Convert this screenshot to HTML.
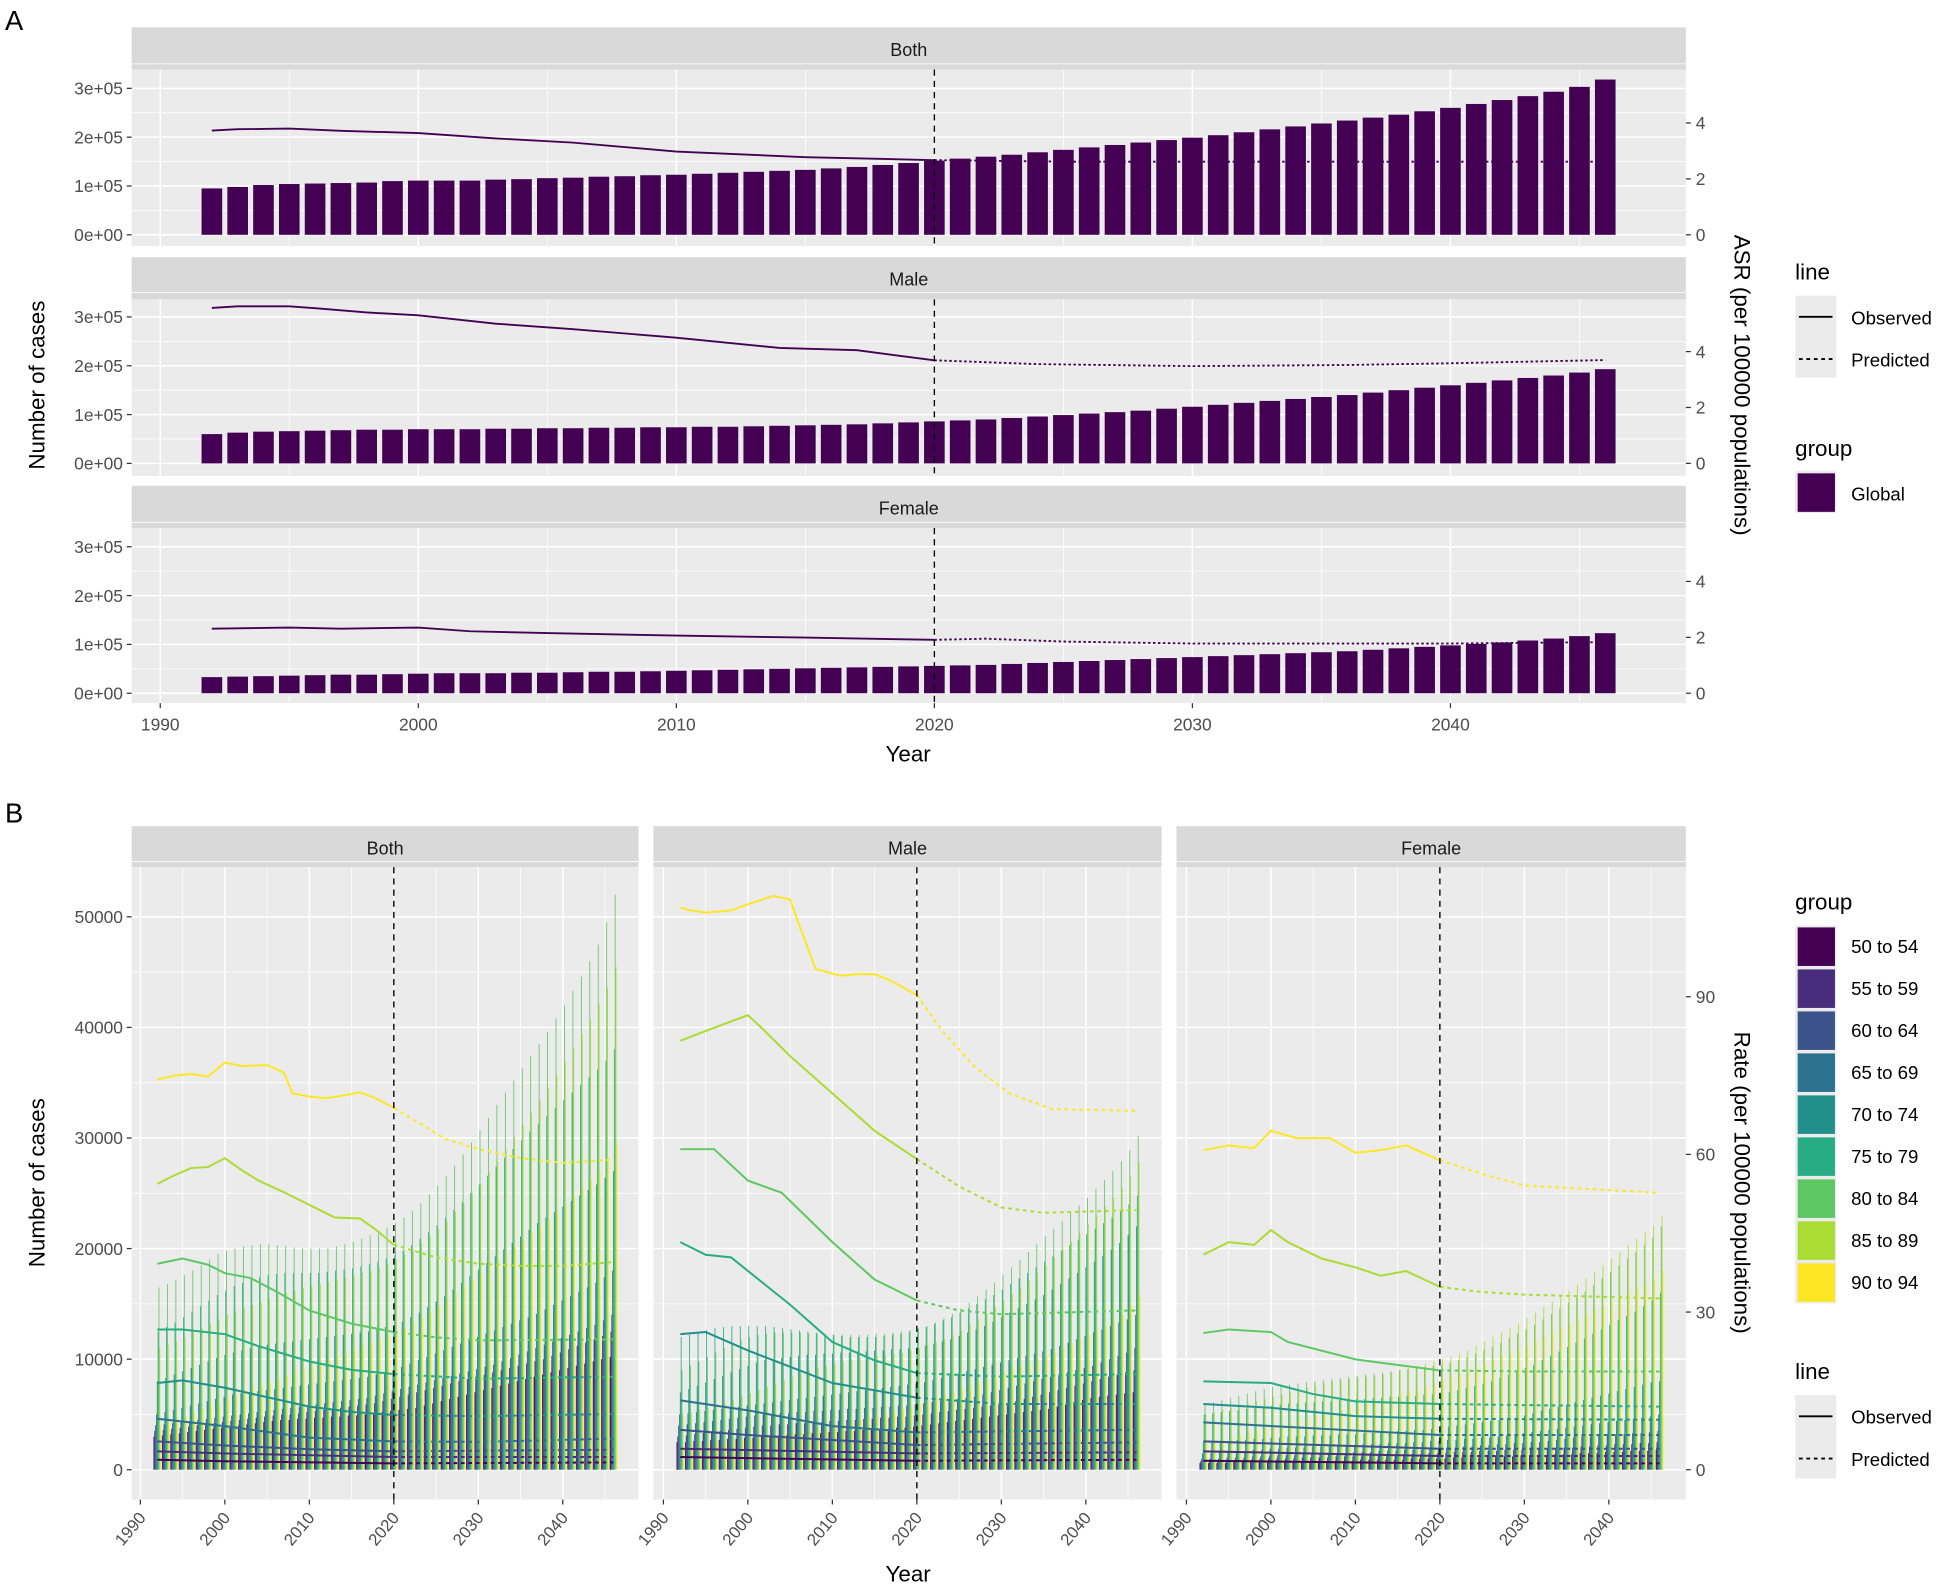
<!DOCTYPE html>
<html><head><meta charset="utf-8">
<style>
html,body{margin:0;padding:0;background:#fff;}
svg{display:block;font-family:"Liberation Sans",Arial,sans-serif;}
</style></head>
<body>
<svg id="chart" width="1948" height="1586" viewBox="0 0 1568 1276.6" preserveAspectRatio="none" xmlns="http://www.w3.org/2000/svg">
<g id="root"></g>
</svg>
<script>
// ---------- Panel A data ----------
const yearsA = [];
for (let y = 1992; y <= 2046; y++) yearsA.push(y);
const casesBoth = [0.95,0.98,1.02,1.04,1.05,1.06,1.07,1.10,1.11,1.11,1.11,1.13,1.14,1.16,1.17,1.19,1.20,1.22,1.23,1.25,1.27,1.29,1.31,1.33,1.36,1.39,1.43,1.47,1.52,1.56,1.60,1.64,1.69,1.74,1.79,1.84,1.89,1.94,1.99,2.04,2.10,2.16,2.22,2.28,2.34,2.40,2.46,2.53,2.60,2.68,2.76,2.84,2.93,3.03,3.18];
const casesMale = [0.60,0.63,0.65,0.66,0.67,0.68,0.69,0.69,0.70,0.70,0.70,0.71,0.71,0.72,0.72,0.73,0.73,0.74,0.74,0.75,0.75,0.76,0.77,0.78,0.79,0.80,0.82,0.84,0.86,0.88,0.90,0.93,0.96,0.99,1.02,1.05,1.08,1.12,1.16,1.20,1.24,1.28,1.32,1.36,1.40,1.45,1.50,1.55,1.60,1.65,1.70,1.75,1.80,1.86,1.93];
const casesFemale = [0.33,0.34,0.35,0.36,0.37,0.38,0.38,0.39,0.40,0.41,0.41,0.41,0.42,0.42,0.43,0.44,0.44,0.45,0.46,0.47,0.48,0.49,0.50,0.51,0.52,0.53,0.54,0.55,0.56,0.57,0.58,0.60,0.62,0.64,0.66,0.68,0.70,0.72,0.74,0.76,0.78,0.80,0.82,0.84,0.86,0.89,0.92,0.95,0.98,1.01,1.04,1.08,1.12,1.17,1.23];
const asrBothYears = [1992,1993,1995,1997,2000,2003,2006,2010,2015,2020,2025,2030,2040,2046];
const asrBoth = [3.73,3.78,3.8,3.72,3.64,3.45,3.3,2.98,2.78,2.67,2.62,2.62,2.62,2.62];
const asrMaleYears = [1992,1993,1995,1996,1998,2000,2003,2006,2010,2014,2017,2020,2024,2030,2036,2040,2046];
const asrMale = [5.56,5.62,5.62,5.55,5.4,5.3,5.0,4.8,4.5,4.13,4.05,3.69,3.55,3.48,3.52,3.58,3.7];
const asrFemaleYears = [1992,1995,1997,2000,2002,2005,2010,2015,2020,2022,2025,2030,2040,2045,2046];
const asrFemale = [2.31,2.35,2.31,2.35,2.22,2.15,2.06,1.99,1.91,1.95,1.85,1.78,1.78,1.82,1.82];
const ticksAx = [1990,2000,2010,2020,2030,2040];
const ticksAleft = [0,1,2,3];
const ticksAleftLabels = ["0e+00","1e+05","2e+05","3e+05"];
const ticksAright = [0,2,4];

// ---------- Panel B data ----------
const groupLabels = ["50 to 54","55 to 59","60 to 64","65 to 69","70 to 74","75 to 79","80 to 84","85 to 89","90 to 94"];
const groupColors = ["#440154","#472D7B","#3B528B","#2C728E","#21908C","#27AD81","#5DC863","#AADC32","#FDE725"];
const barsBoth = [
[3.0,3.1,3.2,3.3,3.4,3.5,3.6,3.7,3.8,3.9,4.0,4.1,4.2,4.3,4.4,4.5,4.5,4.6,4.6,4.7,4.7,4.8,4.8,4.9,4.9,5.0,5.1,5.2,5.3,5.4,5.5,5.6,5.8,6.0,6.2,6.4,6.6,6.8,7.0,7.2,7.4,7.6,7.8,8.0,8.2,8.4,8.6,8.8,9.0,9.2,9.4,9.6,9.8,10.0,10.2],
[3.5,3.6,3.7,3.8,3.9,4.0,4.1,4.2,4.3,4.4,4.5,4.6,4.7,4.8,4.9,5.0,5.0,5.1,5.2,5.3,5.4,5.5,5.6,5.7,5.8,5.9,6.0,6.2,6.4,6.6,6.8,7.0,7.2,7.4,7.6,7.8,8.0,8.2,8.4,8.6,8.8,9.0,9.2,9.4,9.6,9.8,10.0,10.3,10.6,10.9,11.2,11.5,11.8,12.1,12.5],
[4.0,4.1,4.2,4.3,4.4,4.5,4.6,4.7,4.8,4.9,5.0,5.1,5.2,5.3,5.4,5.5,5.6,5.7,5.8,5.9,6.0,6.1,6.2,6.3,6.4,6.5,6.7,6.9,7.1,7.3,7.5,7.7,7.9,8.1,8.3,8.5,8.7,8.9,9.1,9.3,9.5,9.8,10.1,10.4,10.7,11.0,11.3,11.6,11.9,12.2,12.5,12.8,13.1,13.5,14.0],
[5.0,5.2,5.4,5.6,5.8,6.0,6.2,6.4,6.6,6.8,6.9,7.0,7.1,7.2,7.3,7.4,7.5,7.6,7.7,7.8,7.9,8.0,8.1,8.2,8.3,8.4,8.6,8.8,9.0,9.3,9.6,9.9,10.2,10.5,10.8,11.1,11.4,11.7,12.0,12.3,12.6,12.9,13.2,13.5,13.8,14.1,14.5,14.9,15.3,15.7,16.1,16.5,16.9,17.4,18.0],
[8.0,8.3,8.6,8.9,9.2,9.5,9.8,10.1,10.4,10.6,10.8,11.0,11.2,11.3,11.4,11.5,11.6,11.7,11.8,11.9,12.0,12.1,12.2,12.3,12.4,12.5,12.7,12.9,13.1,13.4,13.8,14.2,14.7,15.2,15.7,16.3,16.9,17.5,18.1,18.7,19.3,19.9,20.5,21.1,21.7,22.3,22.8,23.3,23.8,24.3,24.8,25.3,25.8,26.4,27.0],
[12.5,12.9,13.3,13.8,14.3,14.8,15.3,15.8,16.2,16.6,16.9,17.2,17.4,17.6,17.7,17.8,17.8,17.8,17.8,17.8,17.9,18.0,18.1,18.2,18.4,18.6,18.8,19.1,19.4,19.8,20.3,20.9,21.5,22.1,22.8,23.5,24.2,25.0,25.8,26.6,27.4,28.2,29.0,29.8,30.6,31.3,32.0,32.7,33.4,34.1,34.8,35.5,36.2,37.0,38.0],
[16.5,16.8,17.2,17.6,18.0,18.5,19.0,19.5,19.8,20.0,20.2,20.3,20.4,20.4,20.3,20.2,20.1,20.0,20.0,20.0,20.1,20.2,20.4,20.6,20.9,21.2,21.5,21.9,22.3,22.8,23.4,24.1,24.9,25.7,26.6,27.5,28.5,29.6,30.7,31.8,33.0,34.1,35.2,36.3,37.4,38.5,39.6,40.8,42.0,43.3,44.6,46.0,47.5,49.5,52.0],
[11.0,11.3,11.6,12.0,12.4,12.8,13.2,13.6,14.0,14.3,14.6,14.9,15.2,15.5,15.8,16.0,16.2,16.4,16.6,16.8,17.0,17.2,17.4,17.6,17.8,18.0,18.3,18.6,19.0,19.4,19.9,20.5,21.1,21.8,22.5,23.3,24.1,25.0,25.9,26.9,27.9,29.0,30.1,31.2,32.3,33.4,34.5,35.7,36.9,38.1,39.4,40.7,42.1,43.6,45.5],
[4.0,4.3,4.6,4.9,5.2,5.5,5.8,6.1,6.4,6.7,7.0,7.3,7.6,7.9,8.2,8.5,8.8,9.1,9.4,9.7,10.0,10.3,10.6,10.9,11.2,11.5,11.8,12.1,12.4,12.8,13.2,13.7,14.2,14.8,15.4,16.0,16.6,17.2,17.8,18.4,19.0,19.6,20.2,20.8,21.4,22.0,22.6,23.3,24.0,24.7,25.4,26.2,27.0,28.0,29.5]];
const barsMale = [
[2.5,2.5,2.6,2.6,2.7,2.7,2.8,2.8,2.9,2.9,3.0,3.0,3.1,3.1,3.2,3.2,3.3,3.3,3.4,3.4,3.5,3.5,3.6,3.6,3.7,3.7,3.8,3.8,3.9,4.0,4.1,4.2,4.3,4.4,4.5,4.6,4.7,4.8,4.9,5.0,5.1,5.2,5.3,5.4,5.5,5.7,5.9,6.1,6.3,6.5,6.6,6.7,6.8,6.9,7.0],
[3.0,3.1,3.2,3.3,3.4,3.5,3.6,3.7,3.8,3.9,4.0,4.0,4.1,4.1,4.2,4.2,4.3,4.3,4.4,4.4,4.5,4.5,4.6,4.6,4.7,4.7,4.8,4.8,4.9,5.0,5.1,5.2,5.3,5.4,5.5,5.6,5.7,5.8,5.9,6.0,6.2,6.4,6.6,6.8,7.0,7.2,7.4,7.6,7.8,8.0,8.2,8.4,8.6,8.8,9.0],
[4.0,4.1,4.2,4.3,4.4,4.5,4.6,4.7,4.8,4.9,5.0,5.0,5.1,5.1,5.2,5.2,5.3,5.3,5.4,5.4,5.5,5.5,5.6,5.6,5.7,5.7,5.8,5.8,5.9,6.0,6.1,6.2,6.3,6.4,6.5,6.6,6.8,7.0,7.2,7.4,7.6,7.8,8.0,8.2,8.4,8.6,8.8,9.0,9.2,9.4,9.7,10.0,10.3,10.6,11.0],
[5.0,5.1,5.2,5.3,5.4,5.5,5.6,5.7,5.8,5.9,6.0,6.1,6.2,6.3,6.4,6.5,6.6,6.7,6.8,6.9,7.0,7.1,7.2,7.3,7.4,7.5,7.6,7.7,7.8,7.9,8.1,8.3,8.5,8.7,8.9,9.1,9.3,9.5,9.7,9.9,10.1,10.3,10.5,10.7,10.9,11.2,11.5,11.8,12.1,12.4,12.7,13.0,13.3,13.6,14.0],
[7.0,7.3,7.6,7.9,8.2,8.5,8.8,9.1,9.4,9.7,9.9,10.0,10.1,10.2,10.3,10.4,10.4,10.5,10.5,10.6,10.6,10.7,10.7,10.8,10.8,10.9,10.9,11.0,11.1,11.2,11.4,11.6,11.8,12.1,12.4,12.7,13.0,13.4,13.8,14.2,14.6,15.0,15.4,15.8,16.3,16.8,17.3,17.8,18.3,18.8,19.3,19.9,20.5,21.2,22.0],
[12.0,12.2,12.4,12.6,12.8,12.9,13.0,13.0,13.0,13.0,13.0,12.9,12.8,12.7,12.6,12.5,12.4,12.3,12.2,12.1,12.0,12.0,12.0,12.0,12.1,12.2,12.3,12.5,12.7,12.9,13.2,13.5,13.8,14.2,14.6,15.0,15.4,15.8,16.3,16.8,17.3,17.8,18.3,18.8,19.3,19.8,20.3,20.8,21.3,21.8,22.3,22.8,23.4,24.0,24.8],
[9.0,9.4,9.8,10.2,10.6,11.0,11.4,11.7,12.0,12.2,12.3,12.4,12.4,12.4,12.4,12.3,12.3,12.2,12.2,12.2,12.2,12.2,12.2,12.3,12.3,12.4,12.5,12.6,12.8,13.0,13.3,13.7,14.1,14.6,15.1,15.7,16.3,16.9,17.6,18.3,19.0,19.7,20.4,21.1,21.8,22.5,23.2,23.9,24.6,25.4,26.2,27.0,27.9,28.9,30.2],
[5.0,5.2,5.4,5.6,5.8,6.0,6.3,6.6,6.9,7.2,7.5,7.8,8.1,8.4,8.7,9.0,9.2,9.4,9.6,9.8,10.0,10.1,10.2,10.3,10.4,10.5,10.6,10.8,11.0,11.2,11.5,11.8,12.2,12.6,13.1,13.6,14.1,14.7,15.3,15.9,16.5,17.1,17.8,18.5,19.2,19.9,20.6,21.4,22.2,23.0,23.8,24.6,25.5,26.5,27.8],
[2.0,2.1,2.2,2.3,2.4,2.5,2.6,2.7,2.8,2.9,3.0,3.1,3.2,3.3,3.4,3.5,3.6,3.7,3.9,4.1,4.3,4.5,4.7,4.9,5.1,5.3,5.5,5.7,5.9,6.1,6.4,6.7,7.0,7.3,7.6,7.9,8.2,8.5,8.8,9.1,9.4,9.7,10.0,10.3,10.6,11.0,11.4,11.8,12.2,12.6,13.0,13.5,14.0,14.8,15.8]];
const barsFemale = [
[0.6,0.6,0.6,0.6,0.7,0.7,0.7,0.7,0.7,0.7,0.7,0.7,0.7,0.8,0.8,0.8,0.8,0.8,0.8,0.9,0.9,0.9,0.9,0.9,0.9,1.0,1.0,1.0,1.0,1.0,1.1,1.1,1.1,1.1,1.2,1.2,1.2,1.2,1.3,1.3,1.3,1.3,1.4,1.4,1.4,1.5,1.5,1.5,1.6,1.6,1.6,1.7,1.7,1.7,1.8],
[0.8,0.8,0.8,0.9,0.9,0.9,0.9,1.0,1.0,1.0,1.0,1.0,1.1,1.1,1.1,1.1,1.2,1.2,1.2,1.2,1.3,1.3,1.3,1.3,1.4,1.4,1.4,1.5,1.5,1.5,1.6,1.6,1.6,1.7,1.7,1.7,1.8,1.8,1.8,1.9,1.9,1.9,2.0,2.0,2.0,2.1,2.1,2.2,2.2,2.3,2.3,2.3,2.4,2.4,2.5],
[1.0,1.0,1.0,1.1,1.1,1.1,1.2,1.2,1.2,1.3,1.3,1.3,1.4,1.4,1.4,1.5,1.5,1.5,1.6,1.6,1.6,1.7,1.7,1.7,1.8,1.8,1.8,1.9,1.9,2.0,2.0,2.1,2.1,2.2,2.2,2.3,2.3,2.4,2.4,2.5,2.5,2.6,2.7,2.8,2.9,3.0,3.0,3.1,3.1,3.2,3.2,3.3,3.3,3.4,3.5],
[1.5,1.5,1.6,1.6,1.7,1.7,1.8,1.8,1.9,1.9,2.0,2.0,2.0,2.1,2.1,2.1,2.2,2.2,2.2,2.3,2.3,2.3,2.4,2.4,2.4,2.5,2.5,2.6,2.6,2.7,2.7,2.8,2.8,2.9,2.9,3.0,3.1,3.2,3.3,3.4,3.5,3.6,3.7,3.8,3.9,4.0,4.1,4.2,4.3,4.4,4.5,4.6,4.7,4.8,5.0],
[2.5,2.5,2.6,2.6,2.7,2.7,2.8,2.8,2.9,2.9,3.0,3.0,3.0,3.1,3.1,3.1,3.2,3.2,3.2,3.3,3.3,3.4,3.4,3.5,3.5,3.6,3.6,3.7,3.8,3.9,4.0,4.1,4.2,4.3,4.4,4.5,4.6,4.7,4.9,5.1,5.3,5.5,5.7,5.9,6.1,6.3,6.5,6.7,6.9,7.1,7.3,7.5,7.7,7.9,8.0],
[5.0,5.1,5.2,5.3,5.4,5.5,5.6,5.7,5.8,5.9,6.0,6.0,6.1,6.1,6.2,6.2,6.3,6.3,6.4,6.4,6.5,6.5,6.6,6.6,6.7,6.7,6.8,6.8,6.9,7.0,7.2,7.4,7.6,7.8,8.0,8.3,8.6,8.9,9.2,9.5,9.9,10.3,10.7,11.1,11.5,11.9,12.3,12.7,13.1,13.5,13.9,14.3,14.8,15.3,16.0],
[6.0,6.1,6.3,6.5,6.7,6.9,7.1,7.3,7.5,7.6,7.7,7.8,7.9,8.0,8.1,8.2,8.3,8.4,8.5,8.6,8.7,8.8,8.9,9.0,9.1,9.2,9.3,9.4,9.5,9.7,9.9,10.2,10.5,10.8,11.1,11.5,11.9,12.3,12.7,13.1,13.6,14.1,14.6,15.1,15.6,16.1,16.7,17.3,17.9,18.5,19.1,19.7,20.3,21.0,22.0],
[5.0,5.2,5.4,5.6,5.8,6.0,6.2,6.4,6.6,6.8,7.0,7.2,7.4,7.6,7.8,8.0,8.1,8.2,8.3,8.4,8.5,8.6,8.8,9.0,9.2,9.4,9.6,9.8,10.0,10.2,10.5,10.8,11.2,11.6,12.0,12.4,12.8,13.2,13.7,14.2,14.7,15.2,15.7,16.2,16.7,17.3,17.9,18.5,19.1,19.7,20.3,20.9,21.5,22.1,23.0],
[2.5,2.6,2.7,2.9,3.1,3.3,3.5,3.7,3.9,4.0,4.2,4.4,4.6,4.8,5.0,5.2,5.4,5.6,5.8,6.0,6.2,6.4,6.6,6.8,7.0,7.2,7.5,7.8,8.1,8.4,8.7,9.0,9.3,9.6,9.9,10.2,10.5,10.8,11.2,11.6,12.0,12.4,12.8,13.2,13.6,14.0,14.4,14.8,15.2,15.6,16.0,16.4,16.8,17.3,18.0]];
const rateBothYears = [
[1992,2000,2020,2046],[1992,2000,2020,2046],[1992,2000,2010,2020,2046],[1992,2000,2010,2020,2030,2046],
[1992,1995,2000,2005,2010,2015,2020,2030,2046],[1992,1995,2000,2004,2010,2015,2020,2030,2046],
[1992,1995,1998,2000,2003,2006,2010,2015,2020,2025,2030,2046],
[1992,1994,1996,1998,2000,2002,2004,2007,2010,2013,2016,2018,2020,2025,2030,2035,2040,2046],
[1992,1994,1996,1998,2000,2002,2005,2007,2008,2010,2012,2014,2016,2018,2020,2023,2026,2030,2035,2040,2046]];
const rateBoth = [
[1.9,1.6,1.2,1.4],[3.5,3.1,2.4,2.4],[5.4,4.6,3.9,3.5,3.8],[9.7,8.3,6.1,5.4,5.3,5.9],
[16.5,17,15.6,13.8,12,11,10.4,10.2,10.6],[26.7,26.7,25.8,23.5,20.6,19,18.2,17.3,17.7],
[39.2,40.2,39,37.4,36.5,34,30.3,27.8,26.2,25.2,24.6,24.8],
[54.4,56,57.4,57.6,59.3,57,55,52.8,50.4,48,47.8,45.5,42.8,40.4,39.2,38.8,38.8,39.5],
[74.2,75,75.3,74.8,77.5,76.8,77,75.5,71.6,71,70.7,71.2,71.8,70.6,68.8,66,63,61,59.3,58.4,59]];
const rateMaleYears = [
[1992,2020,2046],[1992,2020,2046],[1992,2000,2020,2046],[1992,2000,2010,2020,2046],
[1992,1995,2000,2010,2020,2030,2046],[1992,1995,1998,2005,2010,2015,2020,2030,2046],
[1992,1996,2000,2004,2010,2015,2020,2025,2030,2046],
[1992,1995,2000,2002,2005,2010,2015,2020,2025,2030,2035,2046],
[1992,1993,1995,1998,2000,2003,2005,2006,2008,2011,2013,2015,2017,2020,2023,2027,2031,2036,2046]];
const rateMale = [
[2.4,1.7,1.9],[4,3.1,3.3],[7.6,6.6,4.7,5.2],[13.2,11.3,8.3,7.1,7.6],
[25.8,26.2,22.7,16.5,13.7,12.5,12.5],[43.3,40.9,40.4,31.4,24.3,20.8,18.4,17.7,18.2],
[61,61,55,52.7,43.3,36.2,32.2,30.3,29.6,30.3],
[81.6,83.5,86.5,83.5,78.7,71.6,64.5,59.1,53.9,49.9,48.9,49.4],
[107,106.5,106,106.4,107.6,109.2,108.5,104,95.3,94,94.3,94.3,93,90.3,83.5,76.4,71.6,68.6,68.3]];
const rateFemaleYears = [
[1992,2020,2046],[1992,2020,2046],[1992,2020,2046],[1992,2020,2046],
[1992,2000,2010,2020,2046],[1992,2000,2005,2010,2020,2030,2046],
[1992,1995,2000,2002,2010,2020,2030,2046],
[1992,1995,1998,2000,2002,2006,2010,2013,2016,2020,2025,2030,2046],
[1992,1995,1998,2000,2003,2007,2010,2013,2016,2020,2025,2030,2040,2046]];
const rateFemale = [
[1.7,1.2,1.2],[3.5,2.6,2.6],[5.4,4,4],[9,6.6,6.6],
[12.5,11.8,10.2,9.7,9.5],[16.8,16.5,14.4,13,12.5,12.3,12],
[26,26.7,26.2,24.3,21,18.9,18.7,18.7],
[40.9,43.3,42.8,45.6,43.3,40.2,38.5,36.9,37.8,34.8,33.8,33.3,32.6],
[60.8,61.7,61.2,64.5,63.1,63.1,60.3,60.8,61.7,58.9,56.3,54.1,53.2,52.7]];
const ticksBx = [1990,2000,2010,2020,2030,2040];
const ticksBleft = [0,10000,20000,30000,40000,50000];
const ticksBright = [0,30,60,90];

// ---------- helpers ----------
const NS = "http://www.w3.org/2000/svg";
const root = document.getElementById("root");
function mk(tag, attrs, parent, text) {
  const e = document.createElementNS(NS, tag);
  for (const k in attrs) e.setAttribute(k, attrs[k]);
  if (text !== undefined) e.textContent = text;
  (parent || root).appendChild(e);
  return e;
}
function txt(x, y, s, size, anchor, fill, parent, rot) {
  const t = mk("text", {x: x, y: y, "font-size": size, "text-anchor": anchor || "start", fill: fill || "#4D4D4D"}, parent, s);
  if (rot !== undefined) t.setAttribute("transform", "rotate(" + rot + " " + x + " " + y + ")");
  return t;
}

// ---------- Panel A ----------
const gA = mk("g", {});


const tA = txt(4, 24, "A", 22, "start", "#000", gA);


const AX0 = 106, AX1 = 1357;
const xA = yr => 129 + (yr - 1990) * 20.77;
const facetsA = [
  {name: "Both", stripTop: 22, top: 56, bottom: 198, zero: 189, cases: casesBoth, asrY: asrBothYears, asr: asrBoth},
  {name: "Male", stripTop: 207, top: 241, bottom: 383, zero: 373, cases: casesMale, asrY: asrMaleYears, asr: asrMale},
  {name: "Female", stripTop: 391, top: 425, bottom: 566, zero: 558, cases: casesFemale, asrY: asrFemaleYears, asr: asrFemale}
];
facetsA.forEach(f => {
  const g = mk("g", {}, gA);
  
  
  const yL = v => f.zero - v * 39.3;
  const yR = v => f.zero - v * 22.5;
  const st = mk("rect", {x: AX0, y: f.stripTop, width: AX1 - AX0, height: f.top - f.stripTop, fill: "#D9D9D9"}, g);
  
  
  const sl = txt((AX0 + AX1) / 2, f.stripTop + 23, f.name, 14.5, "middle", "#1A1A1A", g);
  
  
  const bg = mk("rect", {x: AX0, y: f.top, width: AX1 - AX0, height: f.bottom - f.top, fill: "#EBEBEB"}, g);
  
  
  for (let v = 0.5; v <= 3.5; v += 1) mk("line", {x1: AX0, x2: AX1, y1: yL(v), y2: yL(v), stroke: "#fff", "stroke-width": 0.6}, g);
  for (let yr = 1995; yr <= 2045; yr += 10) mk("line", {x1: xA(yr), x2: xA(yr), y1: f.top, y2: f.bottom, stroke: "#fff", "stroke-width": 0.6}, g);
  ticksAleft.forEach((v, i) => {
    mk("line", {x1: AX0, x2: AX1, y1: yL(v), y2: yL(v), stroke: "#fff", "stroke-width": 1.2}, g);
    mk("line", {x1: AX0 - 4, x2: AX0, y1: yL(v), y2: yL(v), stroke: "#333", "stroke-width": 1}, g);
    const tl = txt(AX0 - 7, yL(v) + 5, ticksAleftLabels[i], 14, "end", "#4D4D4D", g);
    
    
  });
  ticksAx.forEach(yr => mk("line", {x1: xA(yr), x2: xA(yr), y1: f.top, y2: f.bottom, stroke: "#fff", "stroke-width": 1.2}, g));
  ticksAright.forEach(v => {
    mk("line", {x1: AX1, x2: AX1 + 4, y1: yR(v), y2: yR(v), stroke: "#333", "stroke-width": 1}, g);
    const tr = txt(AX1 + 8, yR(v) + 5, String(v), 14, "start", "#4D4D4D", g);
    
    
  });
  yearsA.forEach((yr, i) => {
    const v = f.cases[i];
    const b = mk("rect", {x: xA(yr) - 8.3, y: yL(v), width: 16.6, height: f.zero - yL(v), fill: "#440154"}, g);
    
    
  });
  const obs = [], pre = [];
  f.asrY.forEach((yr, i) => {
    const p = xA(yr).toFixed(1) + "," + yR(f.asr[i]).toFixed(1);
    if (yr <= 2020) obs.push(p);
    if (yr >= 2020) pre.push(p);
  });
  const lo = mk("polyline", {points: obs.join(" "), fill: "none", stroke: "#440154", "stroke-width": 1.5}, g);
  
  
  const lp = mk("polyline", {points: pre.join(" "), fill: "none", stroke: "#440154", "stroke-width": 1.5, "stroke-dasharray": "2,2"}, g);
  
  
  const dv = mk("line", {x1: xA(2020), x2: xA(2020), y1: f.top, y2: f.bottom, stroke: "#000", "stroke-width": 1.1, "stroke-dasharray": "5,4"}, g);
  
  
});
ticksAx.forEach(yr => {
  mk("line", {x1: xA(yr), x2: xA(yr), y1: 566, y2: 570, stroke: "#333", "stroke-width": 1}, gA);
  const t = txt(xA(yr), 588, String(yr), 14, "middle", "#4D4D4D", gA);
  
  
});
let t1 = txt(731, 613, "Year", 18, "middle", "#000", gA);


t1 = txt(36, 310, "Number of cases", 18, "middle", "#000", gA, -90);


t1 = txt(1396, 310, "ASR (per 100000 populations)", 18, "middle", "#000", gA, 90);


// legend A
const lgA = mk("g", {}, gA);


txt(1445, 225, "line", 18, "start", "#000", lgA);
mk("rect", {x: 1445, y: 238, width: 33, height: 66, fill: "#EBEBEB"}, lgA);
mk("line", {x1: 1448, x2: 1475, y1: 255, y2: 255, stroke: "#000", "stroke-width": 1.5}, lgA);
mk("line", {x1: 1448, x2: 1475, y1: 289, y2: 289, stroke: "#000", "stroke-width": 1.5, "stroke-dasharray": "3,3"}, lgA);
let le = txt(1490, 261, "Observed", 15, "start", "#000", lgA);


le = txt(1490, 295, "Predicted", 15, "start", "#000", lgA);


txt(1445, 367, "group", 18, "start", "#000", lgA);
mk("rect", {x: 1445, y: 379, width: 33, height: 34, fill: "#EBEBEB"}, lgA);
mk("rect", {x: 1447, y: 381, width: 30, height: 31, fill: "#440154"}, lgA);
le = txt(1490, 403, "Global", 15, "start", "#000", lgA);



// ---------- Panel B ----------
const gB = mk("g", {});


const tB = txt(4, 662, "B", 22, "start", "#000", gB);


const BT = 698, BB = 1207, BS = 665, BZ = 1183;
const yBL = v => BZ - v * 0.0089;
const yBR = v => BZ - v * 4.23;
const facetsB = [
  {name: "Both", x0: 106, x1: 514, o: 113, bars: barsBoth, ry: rateBothYears, rv: rateBoth},
  {name: "Male", x0: 526, x1: 935, o: 534, bars: barsMale, ry: rateMaleYears, rv: rateMale},
  {name: "Female", x0: 947, x1: 1357, o: 955, bars: barsFemale, ry: rateFemaleYears, rv: rateFemale}
];
facetsB.forEach(f => {
  const g = mk("g", {}, gB);
  
  
  const xB = yr => f.o + (yr - 1990) * 6.8;
  const st = mk("rect", {x: f.x0, y: BS, width: f.x1 - f.x0, height: BT - BS, fill: "#D9D9D9"}, g);
  
  
  const sl = txt((f.x0 + f.x1) / 2, BS + 23, f.name, 14.5, "middle", "#1A1A1A", g);
  
  
  const bg = mk("rect", {x: f.x0, y: BT, width: f.x1 - f.x0, height: BB - BT, fill: "#EBEBEB"}, g);
  
  
  for (let v = 5000; v <= 55000; v += 10000) mk("line", {x1: f.x0, x2: f.x1, y1: yBL(v), y2: yBL(v), stroke: "#fff", "stroke-width": 0.6}, g);
  for (let yr = 1995; yr <= 2045; yr += 10) mk("line", {x1: xB(yr), x2: xB(yr), y1: BT, y2: BB, stroke: "#fff", "stroke-width": 0.6}, g);
  ticksBleft.forEach(v => mk("line", {x1: f.x0, x2: f.x1, y1: yBL(v), y2: yBL(v), stroke: "#fff", "stroke-width": 1.2}, g));
  ticksBx.forEach(yr => {
    mk("line", {x1: xB(yr), x2: xB(yr), y1: BB, y2: BB + 4, stroke: "#333", "stroke-width": 1}, g);
    mk("line", {x1: xB(yr), x2: xB(yr), y1: BT, y2: BB, stroke: "#fff", "stroke-width": 1.2}, g);
    const t = txt(xB(yr) + 5, BB + 15, String(yr), 13.5, "end", "#4D4D4D", g, -50);
    
    
  });
  const bw = 0.9 * 6.8 / 9;
  yearsA.forEach((yr, i) => {
    const left = xB(yr) - 0.45 * 6.8;
    f.bars.forEach((arr, gi) => {
      const v = arr[i] * 1000;
      const b = mk("rect", {x: (left + gi * bw).toFixed(2), y: yBL(v).toFixed(1), width: bw.toFixed(2), height: (BZ - yBL(v)).toFixed(1), fill: groupColors[gi]}, g);
      
      
    });
  });
  f.ry.forEach((yrs, gi) => {
    const obs = [], pre = [];
    yrs.forEach((yr, i) => {
      const p = xB(yr).toFixed(1) + "," + yBR(f.rv[gi][i]).toFixed(1);
      if (yr <= 2020) obs.push(p);
      if (yr >= 2020) pre.push(p);
    });
    const lo = mk("polyline", {points: obs.join(" "), fill: "none", stroke: groupColors[gi], "stroke-width": 1.6}, g);
    
    
    const lp = mk("polyline", {points: pre.join(" "), fill: "none", stroke: groupColors[gi], "stroke-width": 1.6, "stroke-dasharray": "3,3"}, g);
    
    
  });
  const dv = mk("line", {x1: xB(2020), x2: xB(2020), y1: BT, y2: BB, stroke: "#000", "stroke-width": 1.1, "stroke-dasharray": "5,4"}, g);
  
  
});
ticksBleft.forEach(v => {
  mk("line", {x1: 102, x2: 106, y1: yBL(v), y2: yBL(v), stroke: "#333", "stroke-width": 1}, gB);
  const t = txt(99, yBL(v) + 5, String(v), 14, "end", "#4D4D4D", gB);
  
  
});
ticksBright.forEach(v => {
  mk("line", {x1: 1357, x2: 1361, y1: yBR(v), y2: yBR(v), stroke: "#333", "stroke-width": 1}, gB);
  const t = txt(1365, yBR(v) + 5, String(v), 14, "start", "#4D4D4D", gB);
  
  
});
t1 = txt(731, 1273, "Year", 18, "middle", "#000", gB);


t1 = txt(36, 952, "Number of cases", 18, "middle", "#000", gB, -90);


t1 = txt(1396, 952, "Rate (per 100000 populations)", 18, "middle", "#000", gB, 90);


const lgB = mk("g", {}, gB);


txt(1445, 732, "group", 18, "start", "#000", lgB);
groupLabels.forEach((lab, gi) => {
  const y0 = 745 + gi * 33.8;
  mk("rect", {x: 1445, y: y0, width: 33, height: 33.8, fill: "#EBEBEB"}, lgB);
  mk("rect", {x: 1447, y: y0 + 1.5, width: 30, height: 31, fill: groupColors[gi]}, lgB);
  const t = txt(1490, y0 + 22, lab, 15, "start", "#000", lgB);
  
  
});
txt(1445, 1110, "line", 18, "start", "#000", lgB);
mk("rect", {x: 1445, y: 1123, width: 33, height: 67, fill: "#EBEBEB"}, lgB);
mk("line", {x1: 1448, x2: 1475, y1: 1140, y2: 1140, stroke: "#000", "stroke-width": 1.5}, lgB);
mk("line", {x1: 1448, x2: 1475, y1: 1174, y2: 1174, stroke: "#000", "stroke-width": 1.5, "stroke-dasharray": "3,3"}, lgB);
le = txt(1490, 1146, "Observed", 15, "start", "#000", lgB);


le = txt(1490, 1180, "Predicted", 15, "start", "#000", lgB);


</script>
</body></html>
